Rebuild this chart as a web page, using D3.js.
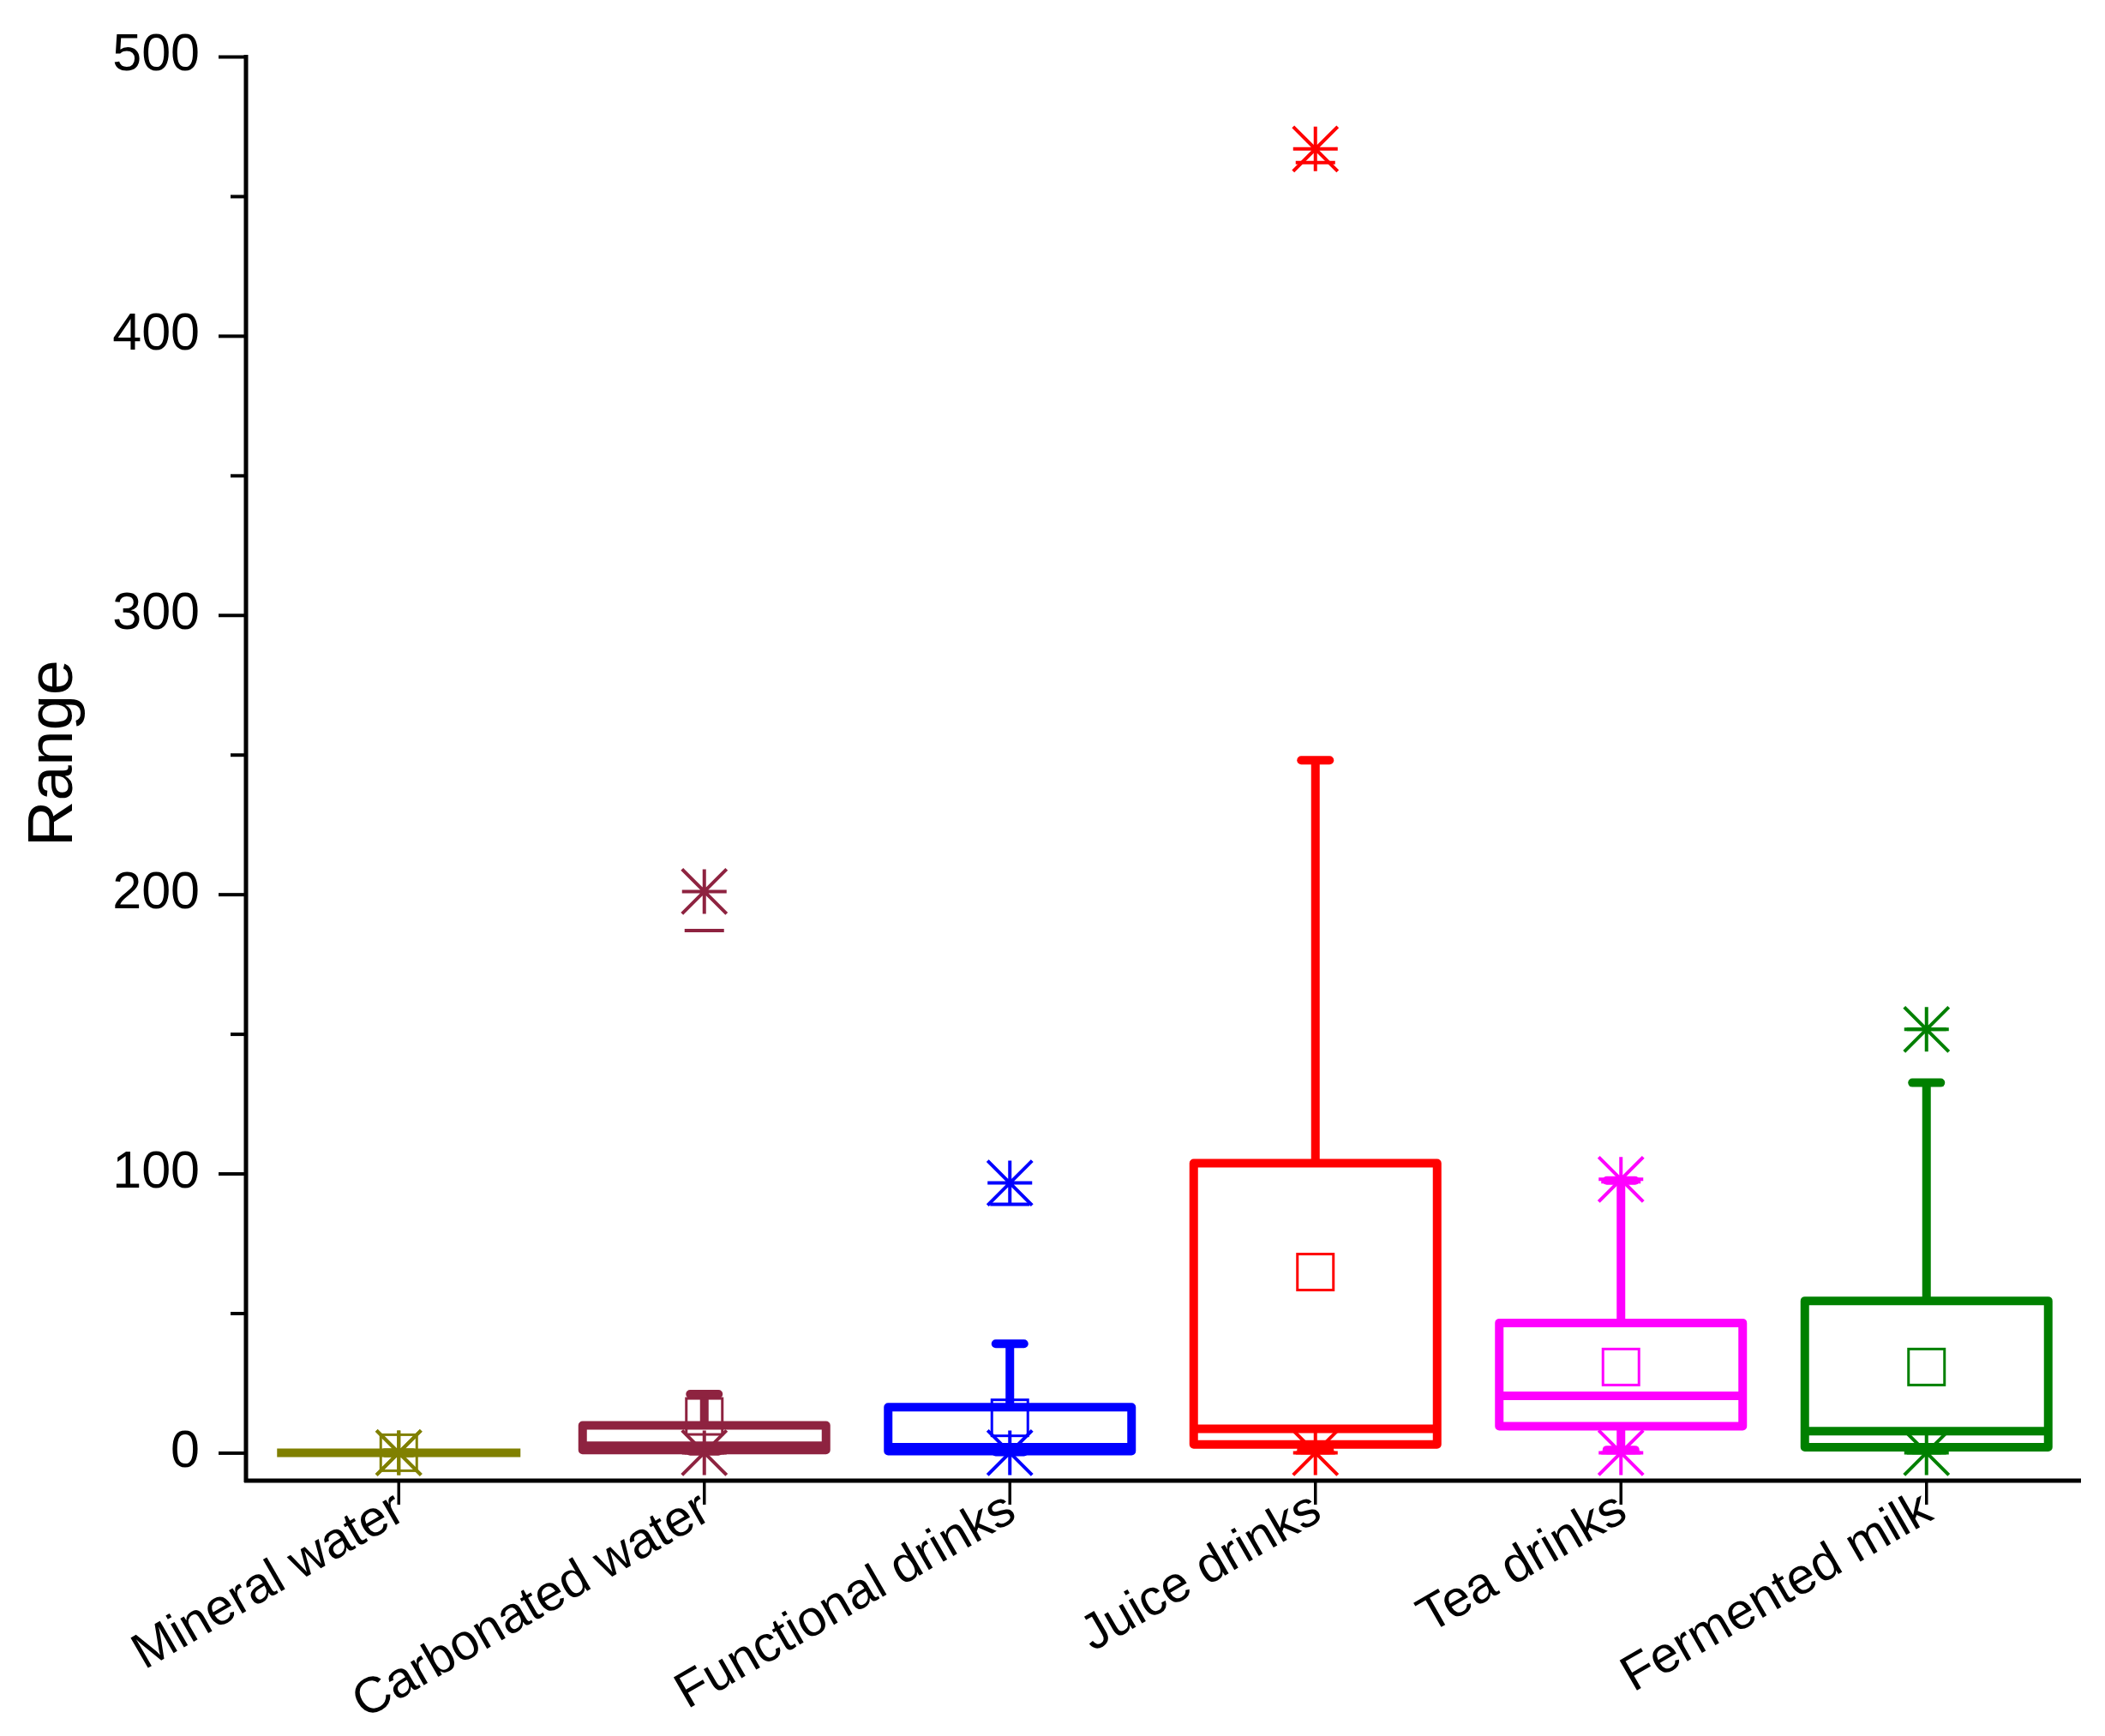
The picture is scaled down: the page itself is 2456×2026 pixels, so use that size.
<!DOCTYPE html>
<html>
<head>
<meta charset="utf-8">
<script src="https://cdn.jsdelivr.net/npm/d3@7"></script>
<style>
  body { margin: 0; background: #fff; }
  text { font-family: "Liberation Sans", Arial, sans-serif; }
</style>
</head>
<body>
<script>

// categories and box statistics
let categories = ["Mineral water", "Carbonated water", "Functional drinks", "Juice drinks", "Tea drinks", "Fermented milk"];
let colors     = ["#808000", "#8e2340", "#0000ff", "#ff0000", "#ff00ff", "#008000"];

let q1         = [0, 1, 0.6, 3, 9.5, 2];
let median     = [0, 2.5, 2, 8.6, 20.4, 7.7];
let q3         = [0, 9.8, 16.3, 103.7, 46.5, 54.4];
let whiskLow   = [0, 0.5, 0.3, 1, 1, 1];
let whiskHigh  = [0, 21, 39, 248, 97.5, 132.5];
let mean       = [0, 13, 12.5, 64.7, 30.7, 30.7];
let maxStar    = [0, 201, 96.6, 466.9, 97.9, 151.6];
let minStar    = [0, 0, 0, 0, 0, 0];
let highDash   = [0, 187, 89, 462, 97, 151.6];
let lowDash    = [0, 0, 0, 0, 0, 0];

let yTicks = [0, 100, 200, 300, 400, 500];
let yMinorTicks = [50, 150, 250, 350, 450];

let canvasW = 2456;
let canvasH = 2026;

let plotL = 287, plotR = 2426, plotT = 66, plotB = 1728;

let rows = categories.map((c, i) => ({
  cat: c, color: colors[i],
  q1: q1[i], med: median[i], q3: q3[i],
  lo: whiskLow[i], hi: whiskHigh[i], mean: mean[i],
  maxS: maxStar[i], minS: minStar[i], hiD: highDash[i], loD: lowDash[i]
}));

let svg = d3.select("body").append("svg")
  .attr("width", canvasW)
  .attr("height", canvasH);

let x = d3.scaleBand().domain(categories).range([plotL, plotR]).padding(0);
let y = d3.scaleLinear().domain([-10, 500]).range([plotB, plotT]);

let cx = d => x(d.cat) + x.bandwidth() / 2;
let boxW = 284;
let capW = 33;
let starR = 26;
let dashW = 46;
let sq = 42;

// ---- axes
let yAxis = svg.append("g")
  .attr("transform", `translate(${plotL},0)`)
  .call(d3.axisLeft(y).tickValues(yTicks).tickSize(32).tickPadding(22).tickFormat(d3.format("d")));
yAxis.select(".domain").remove();
yAxis.selectAll(".tick line").attr("stroke", "#000").attr("stroke-width", 4);
yAxis.selectAll(".tick text")
  .attr("font-size", 61)
  .attr("fill", "#000")
  .attr("dy", "0.26em");

svg.append("g")
  .attr("transform", `translate(${plotL},0)`)
  .call(d3.axisLeft(y).tickValues(yMinorTicks).tickSize(18).tickFormat(""))
  .call(g => g.select(".domain").remove())
  .selectAll(".tick line").attr("stroke", "#000").attr("stroke-width", 4);

svg.append("line")
  .attr("x1", plotL).attr("x2", plotL)
  .attr("y1", y(500) - 2).attr("y2", plotB + 2)
  .attr("stroke", "#000").attr("stroke-width", 5);

let xAxis = svg.append("g")
  .attr("transform", `translate(0,${plotB})`)
  .call(d3.axisBottom(x).tickSize(28).tickFormat(""));
xAxis.select(".domain").remove();
xAxis.selectAll(".tick line").attr("stroke", "#000").attr("stroke-width", 3.5);

svg.append("line")
  .attr("x1", plotL - 2).attr("x2", plotR + 2)
  .attr("y1", plotB).attr("y2", plotB)
  .attr("stroke", "#000").attr("stroke-width", 5);

svg.selectAll(".xlabel")
  .data(categories)
  .join("text")
  .attr("class", "xlabel")
  .attr("text-anchor", "end")
  .attr("font-size", 59)
  .attr("fill", "#000")
  .attr("transform", d => `translate(${x(d) + x.bandwidth() / 2 + 10},1772) rotate(-30)`)
  .text(d => d);

svg.append("text")
  .attr("text-anchor", "middle")
  .attr("font-size", 74)
  .attr("fill", "#000")
  .attr("transform", "translate(84,879) rotate(-90)")
  .text("Range");

// ---- boxes
let g = svg.selectAll(".box")
  .data(rows)
  .join("g")
  .attr("class", "box")
  .attr("fill", "none")
  .attr("stroke", d => d.color);

// whiskers
g.append("line")
  .attr("x1", cx).attr("x2", cx)
  .attr("y1", d => y(d.q3)).attr("y2", d => y(d.hi))
  .attr("stroke-width", 10);
g.append("line")
  .attr("x1", cx).attr("x2", cx)
  .attr("y1", d => y(d.q1)).attr("y2", d => y(d.lo))
  .attr("stroke-width", 10);

// whisker caps
["hi", "lo"].forEach(k => {
  g.append("line")
    .attr("x1", d => cx(d) - capW / 2).attr("x2", d => cx(d) + capW / 2)
    .attr("y1", d => y(d[k])).attr("y2", d => y(d[k]))
    .attr("stroke-width", 10)
    .attr("stroke-linecap", "round");
});

// box
g.append("rect")
  .attr("x", d => cx(d) - boxW / 2)
  .attr("width", boxW)
  .attr("y", d => y(d.q3))
  .attr("height", d => y(d.q1) - y(d.q3))
  .attr("stroke-width", d => d.q3 === d.q1 ? 12 : 10)
  .attr("stroke-linejoin", "round");

// median
g.append("line")
  .attr("x1", d => cx(d) - boxW / 2).attr("x2", d => cx(d) + boxW / 2)
  .attr("y1", d => y(d.med)).attr("y2", d => y(d.med))
  .attr("stroke-width", 10);

// mean square
g.append("rect")
  .attr("x", d => cx(d) - sq / 2)
  .attr("y", d => y(d.mean) - sq / 2)
  .attr("width", sq).attr("height", sq)
  .attr("stroke-width", 3);

// stars (extreme points)
function star(sel, key) {
  sel.append("path")
    .attr("stroke-width", 4)
    .attr("d", d => {
      let X = cx(d), Y = y(d[key]), r = starR;
      return `M${X - r},${Y}H${X + r}M${X},${Y - r}V${Y + r}` +
             `M${X - r},${Y - r}L${X + r},${Y + r}M${X + r},${Y - r}L${X - r},${Y + r}`;
    });
}
star(g, "maxS");
star(g, "minS");

// dashes
["hiD", "loD"].forEach(k => {
  g.append("line")
    .attr("x1", d => cx(d) - dashW / 2).attr("x2", d => cx(d) + dashW / 2)
    .attr("y1", d => y(d[k])).attr("y2", d => y(d[k]))
    .attr("stroke-width", 4);
});

</script>
</body>
</html>
